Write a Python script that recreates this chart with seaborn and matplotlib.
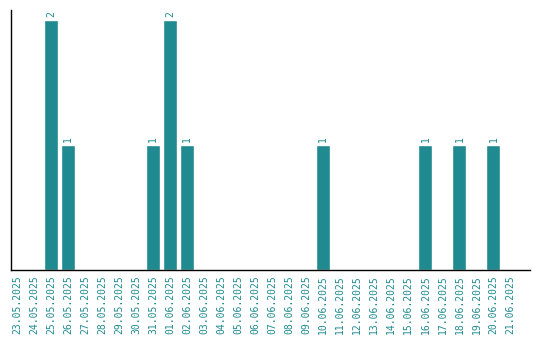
import pandas as pd
import matplotlib
matplotlib.use("Agg")
import matplotlib.pyplot as plt
import seaborn as sns

# dates shown on the x axis
dates = ["23.05.2025", "24.05.2025", "25.05.2025", "26.05.2025", "27.05.2025",
         "28.05.2025", "29.05.2025", "30.05.2025", "31.05.2025", "01.06.2025",
         "02.06.2025", "03.06.2025", "04.06.2025", "05.06.2025", "06.06.2025",
         "07.06.2025", "08.06.2025", "09.06.2025", "10.06.2025", "11.06.2025",
         "12.06.2025", "13.06.2025", "14.06.2025", "15.06.2025", "16.06.2025",
         "17.06.2025", "18.06.2025", "19.06.2025", "20.06.2025", "21.06.2025"]
counts = [0, 0, 2, 1, 0, 0, 0, 0, 1, 2,
          1, 0, 0, 0, 0, 0, 0, 0, 1, 0,
          0, 0, 0, 0, 1, 0, 1, 0, 1, 0]

teal = "#1f8a8f"

df = pd.DataFrame({"date": dates, "count": counts})

sns.set_style("white")
plt.rcParams["font.family"] = ["DejaVu Sans Mono", "DejaVu Sans"]

fig = plt.figure(figsize=(5.4, 3.4), dpi=100)
ax = fig.add_axes([0.0204, 0.2059, 0.9611, 0.7647])

sns.barplot(data=df, x="date", y="count", color=teal, saturation=1,
            width=0.82, ax=ax)

# value labels above the non-empty bars
for i, v in enumerate(counts):
    if v > 0:
        ax.text(i, v + 0.02, str(v), rotation=90, ha="center", va="bottom",
                color=teal, fontsize=7)

ax.set_xlim(-0.35, 30.15)
ax.set_ylim(0, 2.08)
ax.set_xlabel("")
ax.set_ylabel("")
ax.set_yticks([])
ax.tick_params(axis="x", rotation=90, labelsize=7, labelcolor=teal,
               length=0, pad=4)
for lbl in ax.get_xticklabels():
    lbl.set_va("top")

sns.despine(ax=ax, top=True, right=True)
ax.spines["left"].set_color("black")
ax.spines["bottom"].set_color("black")
ax.spines["left"].set_linewidth(1)
ax.spines["bottom"].set_linewidth(1)

fig.savefig("out.png", dpi=100)
